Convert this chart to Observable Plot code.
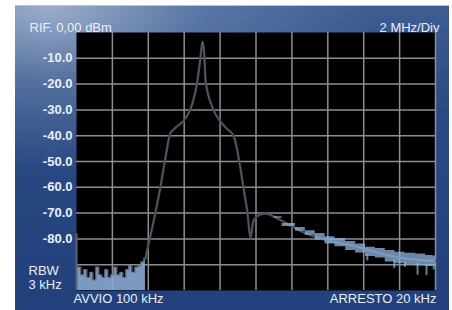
<!DOCTYPE html>
<html>
<head>
<meta charset="utf-8">
<script src="https://cdn.jsdelivr.net/npm/d3@7"></script>
<script src="https://cdn.jsdelivr.net/npm/@observablehq/plot@0.6"></script>
<style>
  html, body { margin: 0; padding: 0; background: #ffffff; }
  #wrap { position: relative; width: 452px; height: 310px; overflow: hidden; }
  #panel {
    position: absolute; left: 15px; top: 5px; width: 434px; height: 305px;
    background:
      radial-gradient(ellipse 75% 55% at 8% 0%, rgba(170,188,212,0.85) 0%, rgba(120,145,185,0.5) 45%, rgba(60,90,140,0) 100%),
      linear-gradient(180deg, #3e5d92 0%, #2a4a84 35%, #22417c 100%);
    border-top: 1px solid #b9c6d8;
    box-sizing: border-box;
  }
  #chart { position: absolute; left: 0; top: 0; }
</style>
</head>
<body>
<div id="wrap"><div id="panel"></div><div id="chart"></div></div>
<script>
// ---- data (MHz across span, dBm) ----
const traceFreq  = [3.84, 4.12, 4.40, 4.68, 4.96, 5.24, 5.35, 5.60, 6.07, 6.46, 6.74, 6.90, 7.02, 7.13, 7.19, 7.58, 8.02, 8.41, 8.75, 9.08, 9.30, 9.53, 9.69, 9.86, 10.14, 10.53, 11.20, 11.92, 12.65, 13.43, 13.93, 15.43, 16.71, 17.99, 19.11, 20.00];
const traceLevel = [-87.6, -78.7, -69.8, -59.7, -48.4, -38.8, -38.0, -36.4, -33.3, -27.5, -18.6, -10.1, -3.5, -10.0, -18.6, -29.1, -34.5, -37.5, -40.0, -50.4, -60.1, -70.2, -79.5, -73.0, -70.9, -70.2, -72.1, -74.8, -77.5, -79.5, -80.6, -82.7, -85.2, -87.2, -88.2, -88.6];

const noiseFreq = [0, 0.17, 0.33, 0.50, 0.67, 0.84, 1.00, 1.17, 1.34, 1.50, 1.67, 1.84, 2.00, 2.17, 2.34, 2.51, 2.67, 2.84, 3.00, 3.18, 3.34, 3.51, 3.68, 3.84];
const noiseTop  = [-90, -91, -94, -92, -95, -93, -96, -91, -94, -95, -92, -95, -94, -91, -94, -93, -95, -92, -90.5, -93, -91, -90.5, -89, -87.5];
const edgeFreq = [0];
const edgeTop  = [-78];

const bandFreq = [11.0, 11.9, 12.5, 13.0, 13.6, 14.1, 14.7, 15.3, 15.8, 16.4, 16.9, 17.5, 18.0, 18.6, 19.2, 19.7, 20.0];
const bandLow  = [-72.0, -75.2, -77.0, -78.6, -80.5, -82.0, -83.0, -84.5, -85.5, -86.8, -87.4, -89.0, -89.6, -90.0, -90.4, -90.7, -90.5];
const bandHigh = [-71.4, -74.0, -75.6, -76.8, -77.9, -79.2, -79.8, -81.0, -82.0, -83.2, -83.7, -84.5, -85.2, -85.6, -85.9, -86.4, -86.6];

const spikeFreq = [16.2, 17.7, 18.3, 19.0, 19.5, 19.9];
const spikeFrom = [-86.0, -88.0, -89.0, -89.5, -90.0, -90.0];
const spikeTo   = [-88.5, -91.5, -91.0, -94.0, -94.2, -92.0];

const yTicks = [-10, -20, -30, -40, -50, -60, -70, -80];
const gridFreqs = [2, 4, 6, 8, 10, 12, 14, 16, 18, 20];
const gridLevels = [-10, -20, -30, -40, -50, -60, -70, -80, -90];

const refLabel = "RIF. 0,00 dBm";
const divLabel = "2 MHz/Div";
const rbwLabel = "RBW";
const rbwValue = "3 kHz";
const startLabel = "AVVIO 100 kHz";
const stopLabel = "ARRESTO 20 kHz";

// ---- tables built from arrays ----
const trace = traceFreq.map((f, i) => ({f, v: traceLevel[i]}));
const noise = noiseFreq.map((f, i) => ({f, v: noiseTop[i]}));
const edge = edgeFreq.map((f, i) => ({f, v: edgeTop[i]}));
const band = bandFreq.map((f, i) => ({f, lo: bandLow[i], hi: bandHigh[i]}));
const spikes = spikeFreq.map((f, i) => ({f, a: spikeFrom[i], b: spikeTo[i]}));

const textFill = "#eaeff6";
const font = "'Liberation Sans', Arial, Helvetica, sans-serif";

const chart = Plot.plot({
  width: 452,
  height: 310,
  marginLeft: 76,
  marginRight: 17,
  marginTop: 32,
  marginBottom: 20,
  x: {domain: [0, 20], axis: null},
  y: {domain: [-100, 0]},
  style: {background: "transparent", fontFamily: font},
  marks: [
    Plot.frame({fill: "black", stroke: null}),
    Plot.gridX(gridFreqs, {stroke: "#8e8e8e", strokeOpacity: 1, strokeWidth: 1.5}),
    Plot.gridY(gridLevels, {stroke: "#8e8e8e", strokeOpacity: 1, strokeWidth: 1.5}),
    // left noise floor
    Plot.areaY(noise, {x: "f", y1: -100, y2: "v", curve: "step", fill: "#8aabd6", fillOpacity: 0.9}),
    Plot.line(noise, {x: "f", y: "v", curve: "step", stroke: "#5f6e84", strokeWidth: 1.2, strokeOpacity: 0.8}),
    Plot.ruleX(edge, {x: "f", y1: -100, y2: "v", stroke: "#5c6470", strokeWidth: 2}),
    // main trace
    Plot.line(trace, {x: "f", y: "v", curve: "monotone-x", stroke: "#3d444e", strokeWidth: 2.4}),
    Plot.line(trace, {x: "f", y: "v", curve: "monotone-x", stroke: "#6f7b8a", strokeWidth: 0.8, strokeOpacity: 0.6}),
    // right noisy band
    Plot.areaY(band, {x: "f", y1: "lo", y2: "hi", curve: "step", fill: "#8fb3de", fillOpacity: 0.75}),
    Plot.ruleX(spikes, {x: "f", y1: "a", y2: "b", stroke: "#8fb3de", strokeWidth: 2, strokeOpacity: 0.7}),
    // axis labels
    Plot.axisY(yTicks, {
      tickSize: 0, tickPadding: 4, tickFormat: d => d.toFixed(1),
      fontWeight: "bold", fontSize: 13, fill: textFill, stroke: null
    }),
    Plot.text([refLabel], {frameAnchor: "top-left", textAnchor: "start", dx: -47, dy: -10, fontSize: 13, fill: textFill}),
    Plot.text([divLabel], {frameAnchor: "top-right", textAnchor: "end", dx: 4, dy: -10, fontSize: 13, fill: textFill}),
    Plot.text([rbwLabel], {frameAnchor: "bottom-left", textAnchor: "start", dx: -48, dy: -16, fontSize: 13, fill: textFill}),
    Plot.text([rbwValue], {frameAnchor: "bottom-left", textAnchor: "start", dx: -48, dy: -1.5, fontSize: 13, fill: textFill}),
    Plot.text([startLabel], {frameAnchor: "bottom-left", textAnchor: "start", dx: -3, dy: 12, fontSize: 13, fill: textFill}),
    Plot.text([stopLabel], {frameAnchor: "bottom-right", textAnchor: "end", dx: 1, dy: 12, fontSize: 13, fill: textFill})
  ]
});
document.getElementById("chart").appendChild(chart);
</script>
</body>
</html>
